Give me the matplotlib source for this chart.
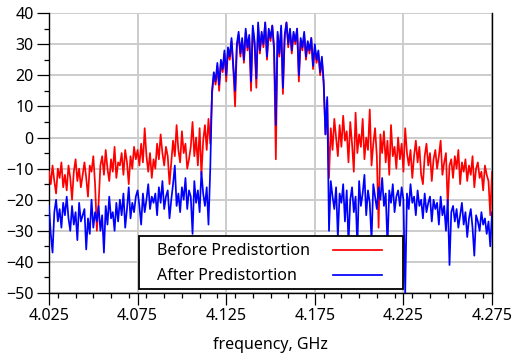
import numpy as np
import matplotlib
matplotlib.use("Agg")
import matplotlib.pyplot as plt
from matplotlib.patches import Rectangle
from matplotlib.ticker import MultipleLocator

plt.rcParams["font.family"] = ["Noto Sans", "DejaVu Sans"]

# sweep: 4.025 .. 4.275 GHz, 1 MHz steps (251 points)
f_start, f_stop, n_pts = 4.025, 4.275, 251
freq = np.linspace(f_start, f_stop, n_pts)

# lower shoulder, 4.025 .. 4.116 GHz (dB)
before_lower = [
    -11, -15, -9, -14, -18, -10, -13, -8, -16, -12,
    -17, -9, -13, -20, -11, -7, -14, -10, -16, -12,
    -8, -13, -19, -9, -11, -6, -15, -30, -21, -9,
    -6, -12, -4, -10, -14, -7, -11, -3, -13, -8,
    -9, -5, -12, -4, -8, -15, -6, -10, -3, -7,
    -4, -9, -2, -8, 3, -6, -11, -5, -13, -7,
    -10, -2, -7, 1, -5, -9, -3, -6, -15, -8,
    -1, -6, 4, -4, -8, 2, -5, -2, -10, -7,
    -3, 5, -6, 0, -9, 3, -12, -1, 4, -4,
    6, -2,
]
after_lower = [
    -22, -31, -37, -24, -20, -27, -23, -29, -21, -25,
    -19, -26, -30, -22, -28, -24, -33, -21, -27, -25,
    -23, -36, -26, -31, -20, -29, -24, -27, -22, -30,
    -25, -37, -22, -28, -19, -26, -24, -30, -21, -27,
    -20, -25, -18, -29, -23, -16, -26, -21, -24, -19,
    -17, -22, -28, -18, -24, -20, -15, -23, -19, -21,
    -18, -25, -16, -21, -14, -23, -19, -17, -26, -20,
    -15, -9, -22, -18, -24, -16, -20, -13, -23, -17,
    -19, -31, -14, -21, -17, -24, -11, -18, -22, -16,
    -28, -10,
]

# signal band, 4.117 .. 4.182 GHz (dB)
before_band = [
    14, 20, 17, 23, 15, 24, 21, 27, 18, 28,
    25, 31, 22, 10, 29, 33, 26, 31, 24, 34,
    28, 32, 15, 35, 30, 16, 36, 27, 33, 29,
    37, 25, 34, 31, 36, 28, -7, 33, 26, 35,
    14, 32, 37, 29, 34, 27, 33, 30, 35, 18,
    31, 28, 33, 25, 30, 27, 32, 22, 29, 24,
    27, 20, 25, 17, 1, 12,
]
after_band = [
    15, 21, 18, 24, 17, 25, 22, 28, 20, 29,
    26, 32, 23, 15, 30, 34, 27, 32, 25, 35,
    29, 33, 18, 36, 31, 19, 37, 28, 34, 30,
    37, 26, 35, 32, 36, 29, 4, 34, 27, 36,
    16, 33, 37, 30, 35, 28, 34, 31, 35, 20,
    32, 29, 34, 26, 31, 28, 32, 23, 30, 25,
    28, 21, 26, 18, 1, 13,
]

# upper shoulder, 4.183 .. 4.275 GHz (dB)
before_upper = [
    -13, 3, -4, 6, 0, -6, 4, -3, 7, -1,
    2, -8, 5, -2, -11, 8, -5, 1, -3, 6,
    -7, 0, -4, 9, -9, -2, 3, -6, -29, 1,
    -5, 2, -8, -1, -12, 4, -6, -3, -10, 0,
    -7, -2, -11, 3, -5, -9, -4, -13, -6, -1,
    -8, -3, -12, -15, -6, -2, -9, -5, -14, -7,
    -4, -10, -6, -1, -12, -8, -5, -22, -9, -7,
    -13, -6, -10, -4, -15, -8, -11, -7, -14, -9,
    -12, -6, -16, -10, -8, -13, -11, -17, -9, -12,
    -14, -25, -11,
]
after_upper = [
    -30, -14, -19, -23, -16, -32, -18, -21, -15, -27,
    -17, -34, -20, -16, -24, -19, -35, -14, -22, -18,
    -12, -25, -17, -21, -33, -15, -19, -23, -16, -20,
    -13, -22, -18, -35, -17, -21, -15, -24, -19, -17,
    -22, -16, -20, -50, -18, -23, -15, -21, -19, -25,
    -17, -22, -20, -26, -18, -24, -21, -19, -27, -20,
    -23, -21, -28, -19, -25, -22, -30, -20, -41, -24,
    -22, -27, -23, -29, -25, -21, -28, -24, -32, -26,
    -23, -29, -38, -25, -27, -30, -24, -28, -26, -31,
    -27, -35, -24,
]

labels = ["Before Predistortion", "After Predistortion"]
colors = ["#ff0000", "#0000ff"]

before = np.array(before_lower + before_band + before_upper, dtype=float)
after = np.array(after_lower + after_band + after_upper, dtype=float)

fig = plt.figure(figsize=(5.12, 3.64), dpi=100)
ax = fig.add_axes([0.0957, 0.195, 0.8653, 0.769])

ax.plot(freq, before, color=colors[0], lw=1.25, zorder=3)
ax.plot(freq, after, color=colors[1], lw=1.25, zorder=4)

ax.set_xlim(f_start, f_stop)
ax.set_ylim(-50, 40)
ax.set_xticks([4.025, 4.075, 4.125, 4.175, 4.225, 4.275])
ax.set_xticklabels(["4.025", "4.075", "4.125", "4.175", "4.225", "4.275"])
ax.xaxis.set_minor_locator(MultipleLocator(0.01))
ax.yaxis.set_major_locator(MultipleLocator(10))
ax.yaxis.set_minor_locator(MultipleLocator(5))

ax.grid(True, which="major", color="#cccccc", lw=1.4, zorder=0)
ax.set_axisbelow(True)
ax.tick_params(which="major", direction="out", length=8.5, width=0.9,
               labelsize=11.5, colors="black", pad=2)
ax.tick_params(which="minor", direction="out", length=3.6, width=0.9)
ax.tick_params(axis="y", which="major", pad=2.5)

for side in ["left", "bottom", "right"]:
    ax.spines[side].set_color("black")
    ax.spines[side].set_linewidth(1.0)
ax.spines["top"].set_visible(False)

ax.set_xlabel("frequency, GHz", fontsize=11.5, labelpad=10)

# legend box: labels on the left, line samples on the right
box = Rectangle((0.203, 0.014), 0.596, 0.189, transform=ax.transAxes,
                facecolor="white", edgecolor="black", lw=1.3,
                zorder=10, clip_on=False)
ax.add_patch(box)
for k, (lab, col) in enumerate(zip(labels, colors)):
    ty = 0.150 - 0.090 * k
    ax.text(0.244, ty, lab, transform=ax.transAxes, fontsize=11.5,
            va="center", ha="left", zorder=11)
    ax.plot([0.641, 0.752], [ty + 0.005, ty + 0.005], transform=ax.transAxes,
            color=col, lw=1.25, zorder=11, clip_on=False)

fig.savefig("out.png", dpi=100)
